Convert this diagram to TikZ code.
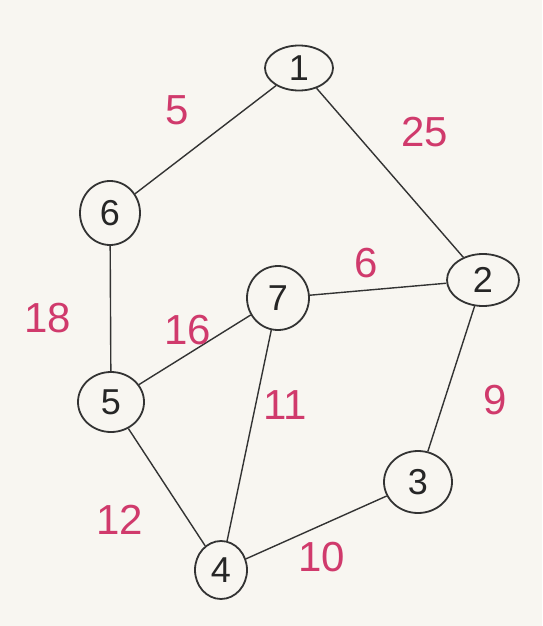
\documentclass[tikz,border=0pt]{standalone}
\usepackage{fontspec}
\setmainfont{Liberation Sans}
\usetikzlibrary{shapes.geometric}
\definecolor{bg}{HTML}{F8F6F1}
\definecolor{wt}{HTML}{D03A6C}
\definecolor{ln}{HTML}{333333}
\begin{document}
\begin{tikzpicture}[x=1pt,y=-1pt,
  vert/.style={draw=ln,line width=1.8pt,ellipse,inner sep=0pt,font=\fontsize{36}{36}\selectfont,text=black!85},
  wlab/.style={text=wt,font=\fontsize{42}{42}\selectfont},
  edge/.style={draw=ln,line width=1.4pt}]
\fill[bg] (0,0) rectangle (542,626);
\useasboundingbox (0,0) rectangle (542,626);
\node[vert,minimum width=68pt,minimum height=45pt] (n1) at (299,68) {1};
\node[vert,minimum width=60pt,minimum height=64pt] (n6) at (110,213) {6};
\node[vert,minimum width=62pt,minimum height=64pt] (n7) at (278,298) {7};
\node[vert,minimum width=72pt,minimum height=52pt] (n2) at (483,280) {2};
\node[vert,minimum width=66pt,minimum height=60pt] (n5) at (111,402) {5};
\node[vert,minimum width=68pt,minimum height=62pt] (n3) at (418,482) {3};
\node[vert,minimum width=52pt,minimum height=58pt] (n4) at (221,570) {4};
\draw[edge] (n1) -- (n6);
\draw[edge] (n1) -- (n2);
\draw[edge] (n6) -- (n5);
\draw[edge] (n7) -- (n2);
\draw[edge] (n5) -- (n7);
\draw[edge] (n7) -- (n4);
\draw[edge] (n2) -- (n3);
\draw[edge] (n5) -- (n4);
\draw[edge] (n4) -- (n3);
\node[wlab] (w5) at (177,110) {5};
\node[wlab] (w25) at (425,132) {25};
\node[wlab] (w18) at (48,318) {18};
\node[wlab] (w16) at (188,330) {16};
\node[wlab] (w6) at (366,263) {6};
\node[wlab] (w11) at (285,405) {11};
\node[wlab] (w9) at (495,400) {9};
\node[wlab] (w12) at (120,520) {12};
\node[wlab] (w10) at (322,557) {10};
\end{tikzpicture}
\end{document}
